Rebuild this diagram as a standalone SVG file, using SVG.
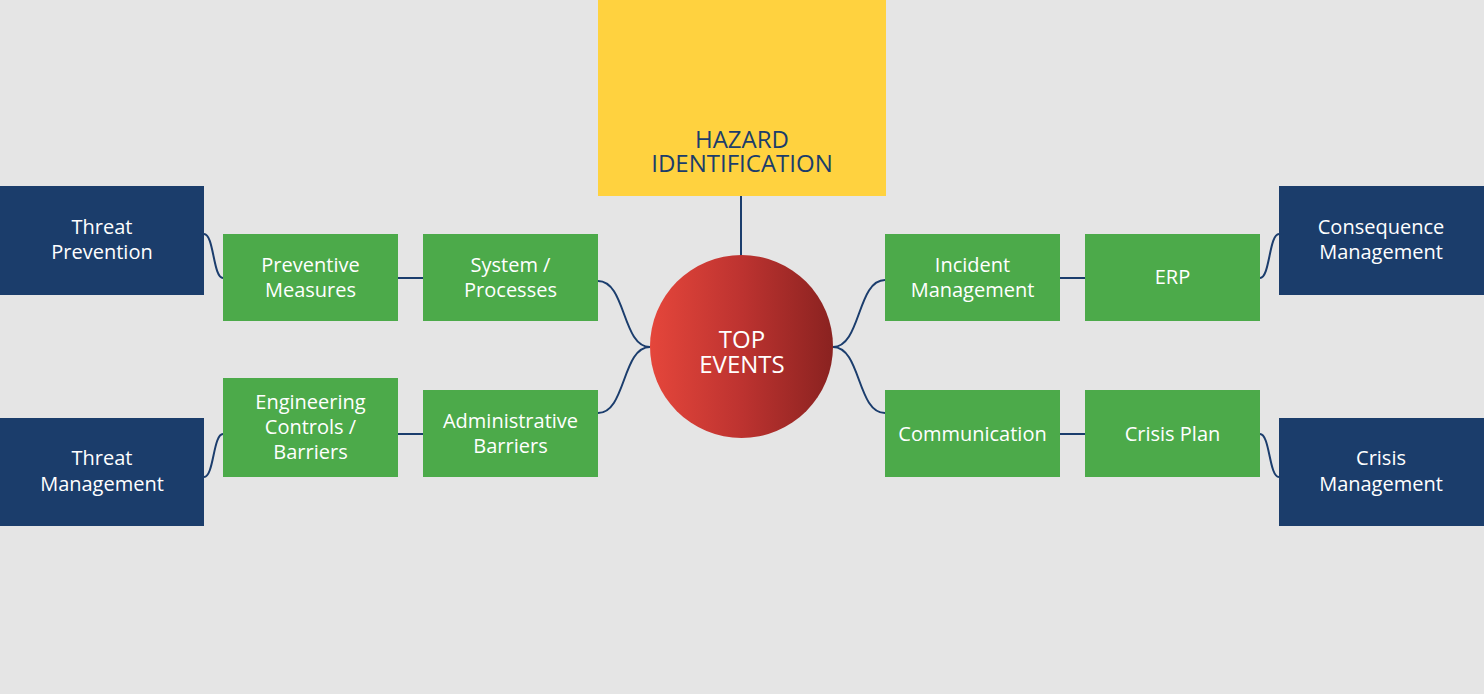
<svg xmlns="http://www.w3.org/2000/svg" width="1484" height="694" viewBox="0 0 1484 694">
<defs>
<linearGradient id="red" x1="0" y1="0" x2="1" y2="0">
<stop offset="0" stop-color="#e5463b"/>
<stop offset="0.5" stop-color="#bd3330"/>
<stop offset="1" stop-color="#8a2220"/>
</linearGradient>
<style>
.dark{fill:#1b3d6b}
.green{fill:#4caa4a}
.t{font-family:"Open Sans","Noto Sans","DejaVu Sans",sans-serif;font-size:20px;fill:#ffffff;text-anchor:middle}
.big{font-family:"Open Sans","Noto Sans","DejaVu Sans",sans-serif;font-size:24px;text-anchor:middle}
.c{fill:none;stroke:#1b3d6d;stroke-width:2}
</style>
</defs>
<rect width="1484" height="694" fill="#e5e5e5"/>
<g id="connectors">
<path class="c" d="M741,196 V256"/>
<path class="c" d="M204,234 C214,234 213,278 223,278"/>
<path class="c" d="M398,278 H423"/>
<path class="c" d="M598,281 C626,281 622,347 650,347"/>
<path class="c" d="M598,413 C626,413 622,347 650,347"/>
<path class="c" d="M204,477 C214,477 213,434 223,434"/>
<path class="c" d="M398,434 H423"/>
<path class="c" d="M833,347 C861,347 857,280 885,280"/>
<path class="c" d="M833,347 C861,347 857,413 885,413"/>
<path class="c" d="M1060,278 H1085"/>
<path class="c" d="M1060,434 H1085"/>
<path class="c" d="M1260,278 C1270,278 1269,234 1279,234"/>
<path class="c" d="M1260,434 C1270,434 1269,477 1279,477"/>
</g>
<g id="hazard">
<rect x="598" y="0" width="288" height="196" fill="#ffd23f"/>
<text class="big" fill="#1b3d6b"><tspan x="742" y="148">HAZARD</tspan><tspan x="742" y="172">IDENTIFICATION</tspan></text>
</g>
<g id="top-events">
<circle cx="741.5" cy="346.5" r="91.5" fill="url(#red)"/>
<text class="big" fill="#ffffff"><tspan x="742" y="348">TOP</tspan><tspan x="742" y="373">EVENTS</tspan></text>
</g>
<g id="threat-prevention">
<rect class="dark" x="0" y="186" width="204" height="109"/>
<text class="t" x="102" y="234">Threat</text>
<text class="t" x="102" y="259">Prevention</text>
</g>
<g id="threat-management">
<rect class="dark" x="0" y="418" width="204" height="108"/>
<text class="t" x="102" y="465">Threat</text>
<text class="t" x="102" y="491">Management</text>
</g>
<g id="consequence-management">
<rect class="dark" x="1279" y="186" width="205" height="109"/>
<text class="t" x="1381" y="234">Consequence</text>
<text class="t" x="1381" y="259">Management</text>
</g>
<g id="crisis-management">
<rect class="dark" x="1279" y="418" width="205" height="108"/>
<text class="t" x="1381" y="465">Crisis</text>
<text class="t" x="1381" y="491">Management</text>
</g>
<g id="preventive-measures">
<rect class="green" x="223" y="234" width="175" height="87"/>
<text class="t" x="310.5" y="272">Preventive</text>
<text class="t" x="310.5" y="297">Measures</text>
</g>
<g id="system-processes">
<rect class="green" x="423" y="234" width="175" height="87"/>
<text class="t" x="510.5" y="272">System /</text>
<text class="t" x="510.5" y="297">Processes</text>
</g>
<g id="engineering-controls">
<rect class="green" x="223" y="378" width="175" height="99"/>
<text class="t" x="310.5" y="409">Engineering</text>
<text class="t" x="310.5" y="434">Controls /</text>
<text class="t" x="310.5" y="459">Barriers</text>
</g>
<g id="administrative-barriers">
<rect class="green" x="423" y="390" width="175" height="87"/>
<text class="t" x="510.5" y="428">Administrative</text>
<text class="t" x="510.5" y="453">Barriers</text>
</g>
<g id="incident-management">
<rect class="green" x="885" y="234" width="175" height="87"/>
<text class="t" x="972.5" y="272">Incident</text>
<text class="t" x="972.5" y="297">Management</text>
</g>
<g id="erp">
<rect class="green" x="1085" y="234" width="175" height="87"/>
<text class="t" x="1172.5" y="284">ERP</text>
</g>
<g id="communication">
<rect class="green" x="885" y="390" width="175" height="87"/>
<text class="t" x="972.5" y="441">Communication</text>
</g>
<g id="crisis-plan">
<rect class="green" x="1085" y="390" width="175" height="87"/>
<text class="t" x="1172.5" y="441">Crisis Plan</text>
</g>
</svg>
